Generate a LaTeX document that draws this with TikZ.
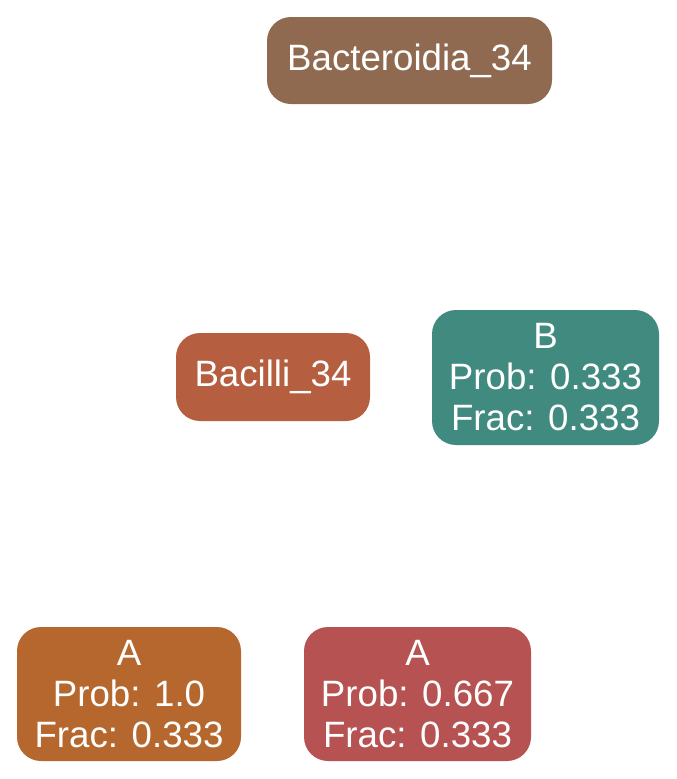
\documentclass[tikz,border=0pt]{standalone}
\usepackage{fontspec}
\setmainfont{Liberation Sans}
\definecolor{cBact}{HTML}{8F6A50}
\definecolor{cBac}{HTML}{B55E40}
\definecolor{cB}{HTML}{418A7F}
\definecolor{cA1}{HTML}{B6672E}
\definecolor{cA2}{HTML}{B65352}
\newcommand\myboxfont{\fontsize{27.5pt}{30.75pt}\selectfont\spaceskip=0.28em\relax}
\begin{document}
\begin{tikzpicture}[x=0.75pt,y=-0.75pt,
  box/.style={rounded corners=18pt, inner sep=0pt, text=white, align=center,
    font=\myboxfont}]
\useasboundingbox (0,0) rectangle (676,779);
\node[box, fill=cBact, minimum width=213.75pt, minimum height=65.25pt] (bact) at (409.5,60.5) {Bacteroidia\_34};
\node[box, fill=cBac, minimum width=145.5pt, minimum height=66pt] (bac) at (273,377) {Bacilli\_34};
\node[box, fill=cB, minimum width=170.25pt, minimum height=101.25pt] (b) at (545.5,377.5) {B\\Prob: 0.333\\Frac: 0.333};
\node[box, fill=cA1, minimum width=168pt, minimum height=100.5pt] (a1) at (129,694) {A\\Prob: 1.0\\Frac: 0.333};
\node[box, fill=cA2, minimum width=170.25pt, minimum height=100.5pt] (a2) at (417.5,694) {A\\Prob: 0.667\\Frac: 0.333};
\end{tikzpicture}
\end{document}
